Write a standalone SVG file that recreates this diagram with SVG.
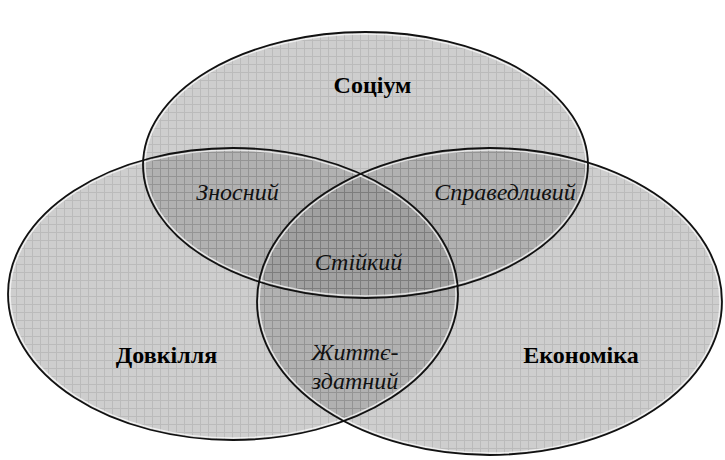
<svg xmlns="http://www.w3.org/2000/svg" width="725" height="460" viewBox="0 0 725 460">
<defs>
<pattern id="grid" width="8" height="8" patternUnits="userSpaceOnUse">
<rect width="8" height="8" fill="#8a8a8a"/>
<path d="M0 0.5H8M0.5 0V8" stroke="#5e5e5e" stroke-width="1" fill="none"/>
</pattern>
</defs>
<style>
.set{fill:url(#grid);fill-opacity:0.42;stroke:none}
.edge{fill:none;stroke:#111;stroke-width:1.8}
.hl{fill:none;stroke:#fff;stroke-width:1.5;stroke-opacity:0.7}
.b{font-family:"Liberation Serif","Times New Roman","DejaVu Serif",serif;font-weight:bold;font-size:24px;fill:#000;text-anchor:middle}
.i{font-family:"Liberation Serif","Times New Roman","DejaVu Serif",serif;font-style:italic;font-size:24px;fill:#111;text-anchor:middle}
</style>
<rect width="725" height="460" fill="#fff"/>
<g id="socium">
<ellipse class="set" cx="365.5" cy="165" rx="222.5" ry="133"/>
</g>
<g id="dovkillia">
<ellipse class="set" cx="233" cy="294" rx="225" ry="146"/>
</g>
<g id="ekonomika">
<ellipse class="set" cx="489.5" cy="301.5" rx="232.5" ry="153.5"/>
</g>
<g id="outlines">
<ellipse class="hl" cx="365.5" cy="165" rx="220.5" ry="131"/>
<ellipse class="hl" cx="233" cy="294" rx="223" ry="144"/>
<ellipse class="hl" cx="489.5" cy="301.5" rx="230.5" ry="151.5"/>
<ellipse class="edge" cx="365.5" cy="165" rx="222.5" ry="133"/>
<ellipse class="edge" cx="233" cy="294" rx="225" ry="146"/>
<ellipse class="edge" cx="489.5" cy="301.5" rx="232.5" ry="153.5"/>
</g>
<g id="labels">
<text class="b" x="372.5" y="93">Соціум</text>
<text class="b" x="166.5" y="363">Довкілля</text>
<text class="b" x="581" y="363">Економіка</text>
<text class="i" x="237.5" y="200">Зносний</text>
<text class="i" x="505" y="200">Справедливий</text>
<text class="i" x="358.5" y="270">Стійкий</text>
<text class="i" x="355" y="360">Життє-</text>
<text class="i" x="355" y="389">здатний</text>
</g>
</svg>
